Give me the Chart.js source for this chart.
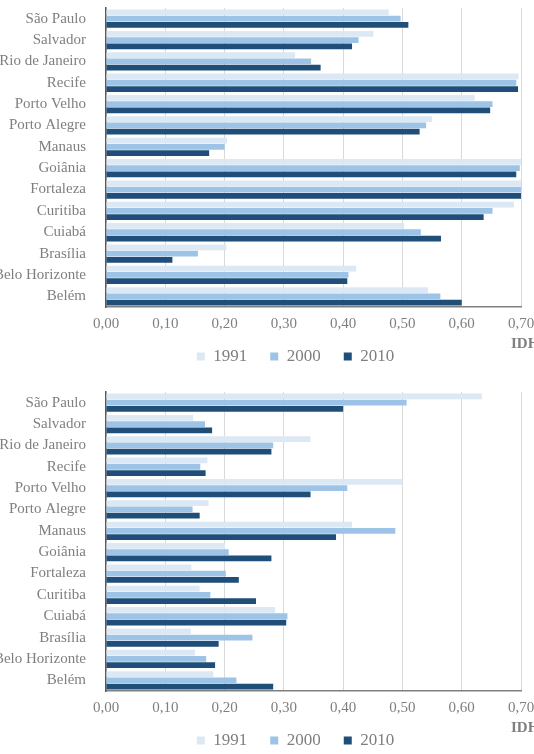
<!DOCTYPE html>
<html>
<head>
<meta charset="utf-8">
<script src="https://cdn.jsdelivr.net/npm/chart.js@4.4.0/dist/chart.umd.min.js"></script>
<style>
  html, body { margin: 0; padding: 0; background: #fff; overflow: hidden; }
  .box { position: absolute; left: 0; width: 534px; height: 393px; }
</style>
</head>
<body>
<div class="box" style="top:0"><canvas id="chart-top" width="534" height="393"></canvas></div>
<div class="box" style="top:384px"><canvas id="chart-bottom" width="534" height="393"></canvas></div>
<script>
const cities = ['São Paulo', 'Salvador', 'Rio de Janeiro', 'Recife', 'Porto Velho', 'Porto Alegre',
  'Manaus', 'Goiânia', 'Fortaleza', 'Curitiba', 'Cuiabá', 'Brasília', 'Belo Horizonte', 'Belém'];
const years = ['1991', '2000', '2010'];
const xTicks = [0, 0.1, 0.2, 0.3, 0.4, 0.5, 0.6, 0.7];

// upper chart
const top1991 = [0.477, 0.451, 0.319, 0.696, 0.622, 0.550, 0.204, 0.700, 0.700, 0.688, 0.503, 0.203, 0.422, 0.543];
const top2000 = [0.497, 0.426, 0.346, 0.692, 0.652, 0.540, 0.200, 0.698, 0.700, 0.652, 0.531, 0.155, 0.409, 0.564];
const top2010 = [0.510, 0.415, 0.362, 0.695, 0.648, 0.529, 0.174, 0.692, 0.700, 0.637, 0.565, 0.112, 0.407, 0.600];

// lower chart
const bottom1991 = [0.634, 0.147, 0.345, 0.171, 0.500, 0.173, 0.415, 0.201, 0.144, 0.158, 0.285, 0.143, 0.150, 0.181];
const bottom2000 = [0.507, 0.167, 0.282, 0.159, 0.407, 0.146, 0.488, 0.207, 0.202, 0.176, 0.306, 0.247, 0.169, 0.220];
const bottom2010 = [0.400, 0.179, 0.279, 0.168, 0.345, 0.158, 0.388, 0.279, 0.224, 0.253, 0.304, 0.190, 0.184, 0.282];

const colors = ['#dce8f4', '#9dc3e6', '#1f4e79'];
const grey = '#7f7f7f';
const serif = "'Liberation Serif', 'Times New Roman', serif";

// legend nudged into place, axis name cut at the right edge like the original
const extras = {
  id: 'extras',
  afterUpdate(chart) {
    const lg = chart.legend;
    const dx = 35;
    const dy = lg.top - 325;
    lg.left += dx;
    lg.right += dx;
    lg.top -= dy;
    lg.bottom -= dy;
    (lg.legendHitBoxes || []).forEach(b => { b.left += dx; b.top -= dy; });
  },
  afterDraw(chart) {
    const ctx = chart.ctx;
    ctx.save();
    ctx.font = `bold 15px ${serif}`;
    ctx.fillStyle = '#7f7f7f';
    ctx.textAlign = 'left';
    ctx.textBaseline = 'middle';
    ctx.fillText('IDH', 511, chart.chartArea.bottom + 37);
    ctx.restore();
  }
};

function makeChart(id, series) {
  return new Chart(document.getElementById(id), {
    type: 'bar',
    data: {
      labels: cities,
      datasets: years.map((y, i) => ({
        label: y,
        data: series[i],
        backgroundColor: colors[i],
        borderWidth: 0,
        categoryPercentage: 0.88,
        barPercentage: 0.92
      }))
    },
    options: {
      indexAxis: 'y',
      responsive: false,
      animation: false,
      devicePixelRatio: 1,
      layout: { padding: { left: 0, right: 13, top: 8, bottom: 0 } },
      scales: {
        x: {
          min: 0,
          max: 0.7,
          afterBuildTicks: (scale) => { scale.ticks = xTicks.map(v => ({ value: v })); },
          afterFit: (scale) => {
            scale.height = 36;
            scale.paddingLeft = 0;
            scale.paddingRight = 0;
          },
          grid: { color: '#d9d9d9', drawTicks: false },
          border: { color: '#808080', width: 1.5 },
          ticks: {
            padding: 8,
            color: grey,
            font: { family: serif, size: 15 },
            callback: (v) => Number(v).toFixed(2).replace('.', ',')
          }
        },
        y: {
          afterFit: (scale) => {
            scale.width = 106;
            scale.paddingTop = 0;
            scale.paddingBottom = 0;
          },
          grid: { display: false },
          border: { color: '#595959', width: 1.5 },
          ticks: {
            autoSkip: false,
            padding: 12,
            color: grey,
            font: { family: serif, size: 15 }
          }
        }
      },
      plugins: {
        legend: {
          position: 'bottom',
          labels: {
            boxWidth: 8,
            boxHeight: 8,
            padding: 23,
            color: grey,
            font: { family: serif, size: 17 }
          }
        },
        tooltip: { enabled: false }
      }
    },
    plugins: [extras]
  });
}

makeChart('chart-top', [top1991, top2000, top2010]);
makeChart('chart-bottom', [bottom1991, bottom2000, bottom2010]);
</script>
</body>
</html>
